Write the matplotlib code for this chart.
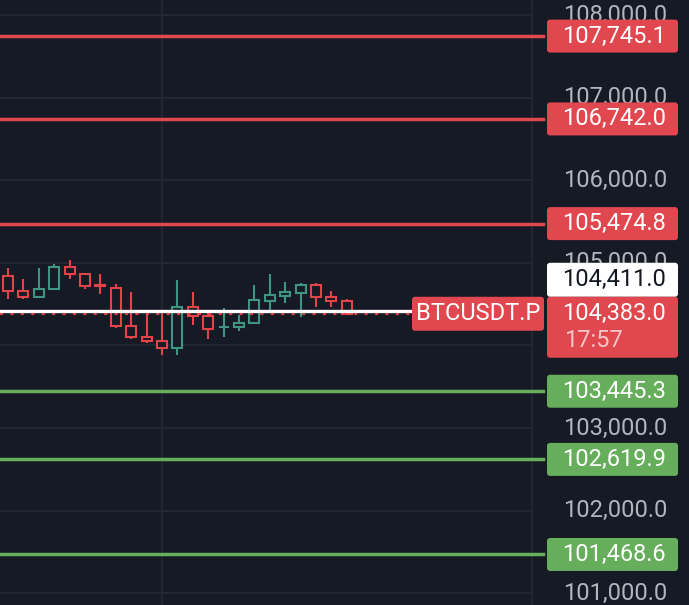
import matplotlib.pyplot as plt
import matplotlib.transforms as mtransforms
from matplotlib.patches import Rectangle, FancyBboxPatch

# candles
opens  = [104840, 104658, 104586, 104683, 104949, 104864, 104730, 104695, 104235, 104102, 104053, 103968,
          104465, 104356, 104220, 104223, 104271, 104537, 104598, 104634, 104731, 104586, 104537]
highs  = [104937, 104804, 104937, 104985, 105034, 104864, 104864, 104743, 104646, 104392, 104392, 104792,
          104646, 104428, 104453, 104368, 104731, 104864, 104767, 104755, 104755, 104658, 104562]
lows   = [104562, 104562, 104586, 104683, 104804, 104683, 104622, 104211, 104077, 104029, 103884, 103884,
          104247, 104077, 104102, 104174, 104271, 104404, 104513, 104344, 104465, 104465, 104383]
closes = [104658, 104586, 104683, 104949, 104864, 104719, 104725, 104235, 104102, 104053, 103968, 104465,
          104356, 104198, 104226, 104271, 104550, 104610, 104646, 104731, 104586, 104537, 104383]

res_levels = [107745.1, 106742.0, 105474.8]
sup_levels = [103445.3, 102619.9, 101468.6]
grid_prices = [101000, 102000, 103000, 104000, 105000, 106000, 107000, 108000]
scale_labels = [101000, 102000, 103000, 105000, 106000, 107000, 108000]  # 104,000 sits under the price tag
last_price = 104383.0
cross_price = 104411.0
symbol = "BTCUSDT.P"
countdown = "17:57"

bg = "#161a25"
grid_c = "#242733"
red = "#e0474e"
lvl_green = "#66ae5b"
c_green = "#3f9482"
c_red = "#e2444a"
txt_c = "#b2b5be"

plt.rcParams['font.family'] = ['Roboto', 'DejaVu Sans']

W, H = 689, 605
fig = plt.figure(figsize=(W / 100, H / 100), dpi=100, facecolor=bg)
ax = fig.add_axes([0, 0, 1, 1])
ax.set_facecolor(bg)
ax.set_xlim(-0.52, 44.22)
ax.set_ylim(100857, 108182)
ax.axis('off')
tr = mtransforms.blended_transform_factory(ax.transAxes, ax.transData)
px = mtransforms.IdentityTransform()  # display pixels, origin bottom-left
xpx = lambda p: p / W
ypx = lambda price: ax.transData.transform((0, price))[1]


def tag(x0, yc, w, h, color, zorder=10):
    ax.add_patch(FancyBboxPatch((x0, yc - h / 2), w, h, boxstyle="round,pad=0,rounding_size=3",
                                transform=px, facecolor=color, edgecolor='none', zorder=zorder))


# grid + price scale border
for gp in grid_prices:
    ax.plot([0, xpx(532)], [gp, gp], transform=tr, color=grid_c, lw=1.4, zorder=1)
ax.axvline(10, color=grid_c, lw=1.4, zorder=1)
ax.plot([xpx(532), xpx(532)], [0, 1], transform=ax.transAxes, color=grid_c, lw=1.4, zorder=1)

# price scale labels
for gp in scale_labels:
    ax.text(xpx(667), gp, f"{gp:,.1f}", transform=tr, ha='right', va='center',
            color=txt_c, fontsize=17, zorder=2)

# candles
bw = 0.65
for i in range(len(opens)):
    o, h, l, c = opens[i], highs[i], lows[i], closes[i]
    col = c_green if c >= o else c_red
    ax.plot([i, i], [l, h], color=col, lw=1.5, zorder=3, solid_capstyle='butt')
    lo, hi = min(o, c), max(o, c)
    ax.add_patch(Rectangle((i - bw / 2, lo), bw, max(hi - lo, 1), facecolor=bg,
                           edgecolor=col, lw=1.5, zorder=4))

# horizontal levels with their tags
for lv in res_levels:
    ax.plot([0, xpx(543)], [lv, lv], transform=tr, color=red, lw=2.5, zorder=5)
    tag(547, ypx(lv), 131, 33, red, zorder=6)
    ax.text(xpx(666), lv, f"{lv:,.1f}", transform=tr, ha='right', va='center',
            color='white', fontsize=17, zorder=7)
for lv in sup_levels:
    ax.plot([0, xpx(543)], [lv, lv], transform=tr, color=lvl_green, lw=2.5, zorder=5)
    tag(547, ypx(lv), 131, 33, lvl_green, zorder=6)
    ax.text(xpx(666), lv, f"{lv:,.1f}", transform=tr, ha='right', va='center',
            color='white', fontsize=17, zorder=7)

# crosshair line + last price line
ax.plot([0, xpx(412)], [cross_price, cross_price], transform=tr, color='white', lw=2.4, zorder=8)
ax.plot([0, xpx(412)], [last_price, last_price], transform=tr, color=c_red, lw=1.5,
        linestyle=(0, (1.5, 3.5)), zorder=9)

# tags on the price scale: last price (with countdown) and crosshair value stacked above it
y_last = ypx(last_price)
top = y_last + 17
tag(547, top + 17, 131, 34, 'white')
ax.text(666, top + 17, f"{cross_price:,.1f}", transform=px, ha='right', va='center',
        color='#131722', fontsize=17, zorder=11)
tag(547, top - 30.5, 131, 61, red)
ax.text(666, top - 17, f"{last_price:,.1f}", transform=px, ha='right', va='center',
        color='white', fontsize=17, zorder=11)
ax.text(564, top - 44, countdown, transform=px, ha='left', va='center',
        color='#f5c6c8', fontsize=17, zorder=11)

# symbol tag at the end of the line
tag(412, top - 17, 132, 34, red)
ax.text(478, top - 17, symbol, transform=px, ha='center', va='center',
        color='white', fontsize=17, zorder=11)

fig.savefig("out.png", dpi=100, facecolor=bg)
